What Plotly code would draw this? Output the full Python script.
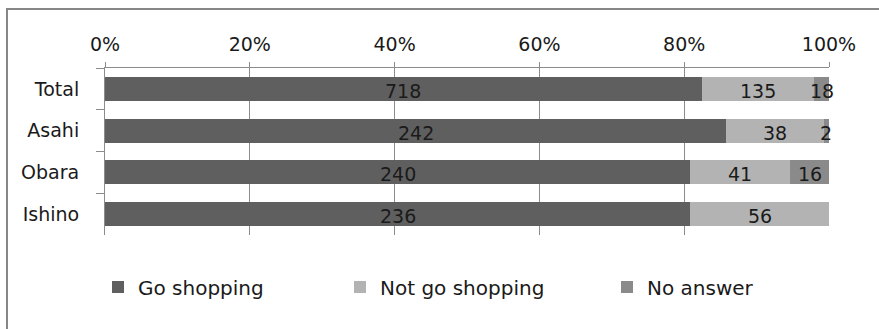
import plotly.graph_objects as go

categories = ["Total", "Asahi", "Obara", "Ishino"]
go_shopping = [718, 242, 240, 236]
not_go_shopping = [135, 38, 41, 56]
no_answer = [18, 2, 16, 0]
series_names = ["Go shopping", "Not go shopping", "No answer"]
tick_vals = [0, 20, 40, 60, 80, 100]
tick_text = ["0%", "20%", "40%", "60%", "80%", "100%"]

colors = ["#5f5f5f", "#b3b3b3", "#8a8a8a"]
FONT = "DejaVu Sans"
TXT = "#1a1a1a"

W, H = 879, 329
L, R, T, B = 105, 50, 68, 94
PW, PH = W - L - R, H - T - B

def px_x(p):
    return (p - L) / PW

def px_y(p):
    return (H - B - p) / PH

series = [go_shopping, not_go_shopping, no_answer]
totals = [sum(s[i] for s in series) for i in range(len(categories))]

fig = go.Figure()
legends = ["legend", "legend2", "legend3"]
for i, (name, vals) in enumerate(zip(series_names, series)):
    fig.add_trace(go.Bar(
        y=categories, x=vals, orientation="h", name=name,
        marker=dict(color=colors[i], line=dict(width=0)),
        legend=legends[i], hoverinfo="skip",
    ))

# data labels centred on each segment (percent scale)
annotations = []
for j, cat in enumerate(categories):
    cum = 0.0
    for s in series:
        pct = 100.0 * s[j] / totals[j]
        if s[j]:
            annotations.append(dict(
                x=cum + pct / 2, y=cat, xref="x", yref="y", text=str(s[j]),
                showarrow=False, xanchor="center", yanchor="middle", yshift=-2,
                font=dict(family=FONT, size=19, color=TXT),
            ))
        cum += pct

legend_left_px = [98, 340, 607]
leg_common = dict(orientation="h", yanchor="middle", xanchor="left",
                  font=dict(family=FONT, size=20, color=TXT),
                  bgcolor="rgba(0,0,0,0)", borderwidth=0)

fig.update_layout(
    width=W, height=H,
    margin=dict(l=L, r=R, t=T, b=B),
    barmode="stack", barnorm="percent", bargap=0.425,
    plot_bgcolor="white", paper_bgcolor="white",
    showlegend=True,
    annotations=annotations,
    legend=dict(x=px_x(legend_left_px[0]), y=px_y(287), **leg_common),
    legend2=dict(x=px_x(legend_left_px[1]), y=px_y(287), **leg_common),
    legend3=dict(x=px_x(legend_left_px[2]), y=px_y(287), **leg_common),
    xaxis=dict(
        side="top", range=[0, 100], tickvals=tick_vals, ticktext=tick_text,
        showgrid=True, gridcolor="#8c8c8c", gridwidth=1,
        showline=True, linecolor="#8c8c8c", linewidth=1,
        ticks="outside", ticklen=5, tickcolor="#8c8c8c",
        zeroline=False, ticklabelstandoff=3,
        tickfont=dict(family=FONT, size=19, color=TXT), fixedrange=True,
    ),
    yaxis=dict(
        categoryorder="array", categoryarray=categories, range=[3.5, -0.5],
        showgrid=False, showline=True, linecolor="#8c8c8c", linewidth=1,
        ticks="outside", ticklen=8, tickcolor="#8c8c8c", tickwidth=1,
        tickson="boundaries",
        ticklabelstandoff=21, zeroline=False,
        tickfont=dict(family=FONT, size=19, color=TXT), fixedrange=True,
    ),
    shapes=[dict(type="rect", xref="paper", yref="paper",
                 x0=px_x(7), x1=px_x(W + 20), y0=px_y(H + 20), y1=px_y(9),
                 line=dict(color="#878787", width=2), fillcolor="rgba(0,0,0,0)",
                 layer="below")],
)

fig.write_html("out.html")
